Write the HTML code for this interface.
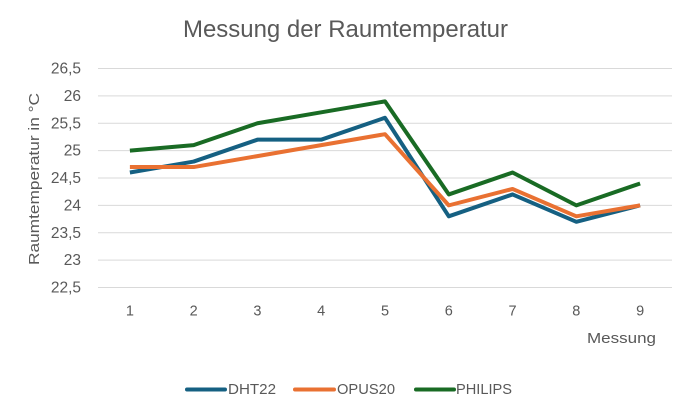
<!DOCTYPE html>
<html lang="de">
<head>
<meta charset="utf-8">
<title>Messung der Raumtemperatur</title>
<style>
html,body{margin:0;padding:0;background:#fff;width:694px;height:417px;overflow:hidden}
svg{display:block;font-family:"Liberation Sans",sans-serif}
text{fill:#595959}
</style>
</head>
<body>
<svg id="chart" xmlns="http://www.w3.org/2000/svg" width="694" height="417" viewBox="0 0 694 417">
  <rect width="694" height="417" fill="#ffffff"/>
  <text x="345.5" y="37" font-size="24" text-anchor="middle" textLength="325" lengthAdjust="spacingAndGlyphs">Messung der Raumtemperatur</text>
  <g id="grid"></g>
  <g id="yticks"></g>
  <g id="xticks"></g>
  <text transform="translate(39,179) rotate(-90)" font-size="14.5" text-anchor="middle" textLength="172" lengthAdjust="spacingAndGlyphs">Raumtemperatur in °C</text>
  <text x="656" y="343" font-size="15" text-anchor="end" textLength="69" lengthAdjust="spacingAndGlyphs">Messung</text>
  <g id="series"></g>
  <g id="legend"></g>
</svg>
<script>
const categories = ["1", "2", "3", "4", "5", "6", "7", "8", "9"];
const dht22 = [24.6, 24.8, 25.2, 25.2, 25.6, 23.8, 24.2, 23.7, 24.0];
const opus20 = [24.7, 24.7, 24.9, 25.1, 25.3, 24.0, 24.3, 23.8, 24.0];
const philips = [25.0, 25.1, 25.5, 25.7, 25.9, 24.2, 24.6, 24.0, 24.4];
const yTicks = [22.5, 23, 23.5, 24, 24.5, 25, 25.5, 26, 26.5];
const yTickLabels = ["22,5", "23", "23,5", "24", "24,5", "25", "25,5", "26", "26,5"];
const seriesNames = ["DHT22", "OPUS20", "PHILIPS"];

const NS = "http://www.w3.org/2000/svg";
const plotLeft = 98, plotRight = 672, plotTop = 68.5, plotBottom = 287.5;
const yMin = 22.5, yMax = 26.5;
const colors = ["#156082", "#E97132", "#196B24"];

function xScale(i) {
  return plotLeft + (i + 0.5) * (plotRight - plotLeft) / categories.length;
}
function yScale(v) {
  return plotBottom - (v - yMin) / (yMax - yMin) * (plotBottom - plotTop);
}
function make(tag, attrs, parent, content) {
  const el = document.createElementNS(NS, tag);
  for (const k in attrs) el.setAttribute(k, attrs[k]);
  if (content !== undefined) el.textContent = content;
  parent.appendChild(el);
  return el;
}

const gridG = document.getElementById("grid");
const yG = document.getElementById("yticks");
const xG = document.getElementById("xticks");
const seriesG = document.getElementById("series");
const legendG = document.getElementById("legend");

yTicks.forEach(function (t, i) {
  const line = make("line", {x1: plotLeft, x2: plotRight, y1: yScale(t), y2: yScale(t), stroke: "#D9D9D9", "stroke-width": 1}, gridG);
  
  
  const label = make("text", {x: 81, y: yScale(t) + 5, "font-size": 15.5, "text-anchor": "end"}, yG, yTickLabels[i]);
  
  
});

categories.forEach(function (c, i) {
  const label = make("text", {x: xScale(i), y: 315.5, "font-size": 14.5, "text-anchor": "middle"}, xG, c);
  
  
});

[dht22, opus20, philips].forEach(function (values, s) {
  const pts = values.map(function (v, i) { return xScale(i) + "," + yScale(v); }).join(" ");
  const line = make("polyline", {points: pts, fill: "none", stroke: colors[s], "stroke-width": 4, "stroke-linejoin": "round", "stroke-linecap": "butt"}, seriesG);
  
  
});

const swatchStart = [187, 295, 416];
const swatchEnd = [225, 334, 454];
const labelStart = [228, 337, 456];
const labelWidth = [48, 58, 56];
seriesNames.forEach(function (name, s) {
  const swatch = make("line", {x1: swatchStart[s], x2: swatchEnd[s], y1: 389.5, y2: 389.5, stroke: colors[s], "stroke-width": 4, "stroke-linecap": "round"}, legendG);
  
  
  const label = make("text", {x: labelStart[s], y: 394, "font-size": 14.5, textLength: labelWidth[s], lengthAdjust: "spacingAndGlyphs"}, legendG, name);
  
  
});
</script>
</body>
</html>
